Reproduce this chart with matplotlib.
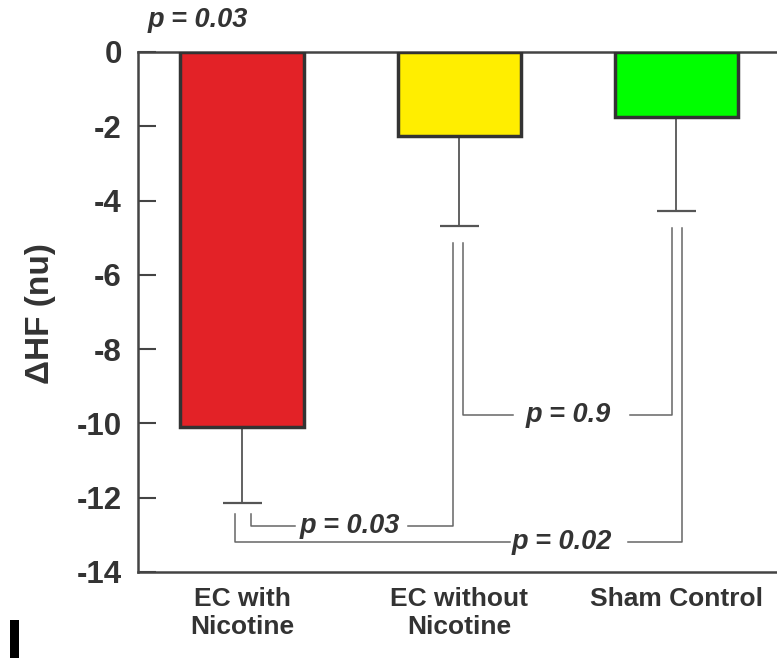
import matplotlib
matplotlib.use('Agg')
import matplotlib.pyplot as plt
from matplotlib.patches import Rectangle
import numpy as np

categories = ['EC with\nNicotine', 'EC without\nNicotine', 'Sham Control']
means = [-10.1, -2.25, -1.75]
sd_lower = [2.05, 2.43, 2.54]
bar_colors = ['#e32227', '#ffee00', '#00ff00']
yticks = [0, -2, -4, -6, -8, -10, -12, -14]
p_overall = 'p = 0.03'
p_pairs = [(0, 1, 'p = 0.03'), (1, 2, 'p = 0.9'), (0, 2, 'p = 0.02')]

txt = '#333333'
plt.rcParams['font.family'] = ['Liberation Sans', 'DejaVu Sans']

fig = plt.figure(figsize=(7.77, 6.58), dpi=100)
ax = fig.add_axes([0.178, 0.1307, 0.822, 0.7903])

x = np.arange(len(categories))
lows = np.array(means) - np.array(sd_lower)
ax.bar(x, means, width=0.57, color=bar_colors, edgecolor='#333333', linewidth=2.5, zorder=3)
# error bars (lower half only)
ax.vlines(x, lows, means, color='#555555', lw=1.3, zorder=2)
ax.hlines(lows, x - 0.09, x + 0.09, color='#555555', lw=1.6, zorder=2)

ax.set_xlim(-0.479, 2.463)
ax.set_ylim(-14, 0)
ax.set_yticks(yticks)
ax.set_yticklabels([str(t) for t in yticks])
ax.set_xticks(x)
ax.set_xticklabels(categories, fontsize=19, fontweight='bold', color=txt, linespacing=1.17)
ax.tick_params(axis='x', length=0, pad=11)
ax.tick_params(axis='y', direction='in', length=13, width=1.5, color='#444444',
               labelsize=22.5, labelcolor=txt, pad=12)
for lbl in ax.get_yticklabels():
    lbl.set_fontweight('bold')
for s in ['left', 'bottom', 'top']:
    ax.spines[s].set_color('#444444')
    ax.spines[s].set_linewidth(1.8)
ax.spines['right'].set_visible(False)

fig.text(40 / 777, 0.523, '\u0394HF (nu)', rotation=90, ha='center', va='center',
         fontsize=24, fontweight='bold', color=txt)

ax.text(-0.205, 0.86, p_overall, ha='center', va='center', fontsize=19.5,
        fontweight='bold', style='italic', color=txt, clip_on=False)

# bracket layout: left leg offset, right leg offset, level, text x, gap left, gap right
bracket_geom = {
    (0, 1): (0.038, -0.028, -12.76, 0.493, 0.251, 0.27),
    (1, 2): (0.018, -0.019, -9.76, 1.502, 0.255, 0.284),
    (0, 2): (-0.035, 0.025, -13.19, 1.471, 0.238, 0.306),
}
lc = '#666666'
for a, b, label in p_pairs:
    dxa, dxb, level, tx, gl, gr = bracket_geom[(a, b)]
    xa = x[a] + dxa
    xb = x[b] + dxb
    ytop_a = lows[a] - (0.3 if a == 0 else 0.45)
    ytop_b = lows[b] - 0.45
    ax.plot([xa, xa, tx - gl], [ytop_a, level, level], color=lc, lw=1.1, zorder=1)
    ax.plot([tx + gr, xb, xb], [level, level, ytop_b], color=lc, lw=1.1, zorder=1)
    ax.text(tx, level, label, ha='center', va='center', fontsize=19.5,
            fontweight='bold', style='italic', color=txt)

fig.patches.append(Rectangle((10 / 777, 0), 9 / 777, 38 / 658, transform=fig.transFigure,
                             facecolor='black', edgecolor='none'))

fig.savefig('out.png', dpi=100)
